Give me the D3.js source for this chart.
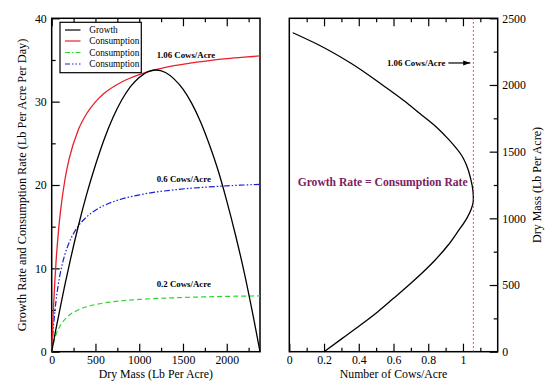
<!DOCTYPE html>
<html><head><meta charset="utf-8">
<script src="https://cdn.jsdelivr.net/npm/d3@7"></script>
<style>
body{margin:0;background:#fff}
svg{display:block}
</style>
</head><body>
<svg id="c" width="560" height="390"></svg>
<script>
// ---- data ----
const growthMass = [0,50,100,150,200,300,400,500,600,700,800,900,1000,1100,1190,1300,1400,1500,1600,1700,1800,1900,2000,2100,2200,2300,2380];
const growthRate = [0,2.8,5.4,8.0,10.4,14.9,18.9,22.4,25.5,28.1,30.2,31.8,32.9,33.6,33.8,33.5,32.7,31.5,29.8,27.6,24.9,21.8,18.1,14.0,9.5,4.4,0];

const consMass = [0,10,20,35,50,75,100,150,200,300,400,500,600,800,1000,1200,1400,1600,1800,2000,2200,2380];
const cons106 = [0,2.83,5.25,8.32,10.84,14.2,16.8,20.57,23.17,26.52,28.58,29.98,31.0,32.36,33.24,33.86,34.31,34.66,34.93,35.16,35.34,35.48];
const cons060 = [0,1.6,2.97,4.71,6.14,8.04,9.51,11.64,13.11,15.01,16.18,16.97,17.55,18.32,18.81,19.17,19.42,19.62,19.77,19.9,20.0,20.08];
const cons020 = [0,0.53,0.99,1.57,2.05,2.68,3.17,3.88,4.37,5.0,5.39,5.66,5.85,6.11,6.27,6.39,6.47,6.54,6.59,6.64,6.67,6.7];

const cowsMass  = [0,100,200,300,400,513,688,800,900,1000,1070,1138,1200,1300,1400,1462,1588,1687,1788,1887,1987,2163,2300,2392];
const cowsCount = [0.20,0.305,0.41,0.51,0.60,0.70,0.84,0.915,0.97,1.022,1.048,1.06,1.058,1.044,1.02,0.997,0.92,0.845,0.75,0.655,0.55,0.355,0.17,0.02];
const cowsMax = 1.06;

const legendLabels = ["Growth","Consumption","Consumption","Consumption"];
const curveLabels = ["1.06 Cows/Acre","0.6 Cows/Acre","0.2 Cows/Acre"];
const leftXTicks = [0,500,1000,1500,2000];
const leftXMinor = [250,750,1250,1750,2250];
const leftYTicks = [0,10,20,30,40];
const leftYMinor = [5,15,25,35];
const rightXTicks = [0,0.2,0.4,0.6,0.8,1.0];
const rightXMinor = [0.1,0.3,0.5,0.7,0.9,1.1];
const rightYTicks = [0,500,1000,1500,2000,2500];
const rightYMinor = [250,750,1250,1750,2250];

// ---- drawing ----
const FONT = '"Liberation Serif", "Times New Roman", serif';
const svg = d3.select("#c");
const RED="#e8202a", GREEN="#2bd62b", BLUE="#1e1ed2", PURPLE="#7b2160";

const xL = d3.scaleLinear().domain([0,2380]).range([51.7,260]);
const yL = d3.scaleLinear().domain([0,40]).range([351.7,18.3]);
const xR = d3.scaleLinear().domain([0,1.2]).range([289.3,497.7]);
const yR = d3.scaleLinear().domain([0,2500]).range([351.7,18.3]);

function addAxis(axis, tx, ty){
  const g = svg.append("g").attr("transform",`translate(${tx},${ty})`).call(axis);
  g.select(".domain").remove();
  g.selectAll("line").attr("stroke","#000").attr("stroke-width",1.2);
  g.attr("font-family",null).attr("font-size",null);
  g.selectAll("text").attr("fill","#000").style("font-family",FONT).style("font-size","11.8px");
  return g;
}
const fmtL = d3.format("d");
const fmtR = v => v===0?"0":(v===1?"1":d3.format(".1f")(v));

// left panel axes
addAxis(d3.axisBottom(xL).tickValues(leftXTicks).tickSizeInner(-8).tickSizeOuter(0).tickPadding(3.5).tickFormat(fmtL),0,yL(0));
addAxis(d3.axisBottom(xL).tickValues(leftXMinor).tickSizeInner(-4).tickSizeOuter(0).tickFormat(""),0,yL(0));
addAxis(d3.axisTop(xL).tickValues(leftXTicks).tickSizeInner(-8).tickSizeOuter(0).tickFormat(""),0,yL(40));
addAxis(d3.axisTop(xL).tickValues(leftXMinor).tickSizeInner(-4).tickSizeOuter(0).tickFormat(""),0,yL(40));
addAxis(d3.axisLeft(yL).tickValues(leftYTicks).tickSizeInner(-8).tickSizeOuter(0).tickPadding(5).tickFormat(fmtL),xL(0),0);
addAxis(d3.axisLeft(yL).tickValues(leftYMinor).tickSizeInner(-4).tickSizeOuter(0).tickFormat(""),xL(0),0);

// right panel axes
addAxis(d3.axisBottom(xR).tickValues(rightXTicks).tickSizeInner(-8).tickSizeOuter(0).tickPadding(3.5).tickFormat(fmtR),0,yR(0));
addAxis(d3.axisBottom(xR).tickValues(rightXMinor).tickSizeInner(-4).tickSizeOuter(0).tickFormat(""),0,yR(0));
addAxis(d3.axisTop(xR).tickValues(rightXTicks.slice(1)).tickSizeInner(-8).tickSizeOuter(0).tickFormat(""),0,yR(2500));
addAxis(d3.axisTop(xR).tickValues(rightXMinor).tickSizeInner(-4).tickSizeOuter(0).tickFormat(""),0,yR(2500));
addAxis(d3.axisRight(yR).tickValues(rightYTicks).tickSizeInner(-8).tickSizeOuter(0).tickPadding(4.6).tickFormat(fmtL),xR(1.2),0);
addAxis(d3.axisRight(yR).tickValues(rightYMinor).tickSizeInner(-4).tickSizeOuter(0).tickFormat(""),xR(1.2),0);

// frames
svg.append("rect").attr("x",xL(0)).attr("y",yL(40)).attr("width",xL(2380)-xL(0)).attr("height",yL(0)-yL(40))
  .attr("fill","none").attr("stroke","#000").attr("stroke-width",1.5);
svg.append("rect").attr("x",xR(0)).attr("y",yR(2500)).attr("width",xR(1.2)-xR(0)).attr("height",yR(0)-yR(2500))
  .attr("fill","none").attr("stroke","#000").attr("stroke-width",1.5);

// left curves
const lineL = (xs, ys) => d3.line().x((d,i)=>xL(xs[i])).y(d=>yL(d)).curve(d3.curveMonotoneX)(ys);
svg.append("path").attr("d",lineL(consMass,cons020)).attr("fill","none").attr("stroke",GREEN).attr("stroke-width",1.2).attr("stroke-dasharray","5,3");
svg.append("path").attr("d",lineL(consMass,cons060)).attr("fill","none").attr("stroke",BLUE).attr("stroke-width",1.2).attr("stroke-dasharray","6,2,1.5,2,1.5,2");
svg.append("path").attr("d",lineL(consMass,cons106)).attr("fill","none").attr("stroke",RED).attr("stroke-width",1.3);
svg.append("path").attr("d",lineL(growthMass,growthRate)).attr("fill","none").attr("stroke","#000").attr("stroke-width",1.3);

// text helper
function txt(x,y,t,size,opts={}){
  const e = svg.append("text").attr("x",x).attr("y",y).text(t)
    .style("font-family",FONT).style("font-size",size+"px");
  if(opts.bold) e.style("font-weight","bold");
  if(opts.anchor) e.attr("text-anchor",opts.anchor);
  if(opts.fill) e.attr("fill",opts.fill);
  if(opts.rot) e.attr("transform",`rotate(-90,${x},${y})`);
  return e;
}

// legend
svg.append("rect").attr("x",60).attr("y",22.3).attr("width",81.3).attr("height",50.4).attr("fill","#fff").attr("stroke","#000").attr("stroke-width",1.2);
const legStyles = [{c:"#000",d:null},{c:RED,d:null},{c:GREEN,d:"5,2,1.5,2"},{c:BLUE,d:"5,2,1.5,2,1.5,2"}];
const legY = [30,41,52.5,64];
legendLabels.forEach((t,i)=>{
  svg.append("line").attr("x1",65).attr("x2",80.5).attr("y1",legY[i]).attr("y2",legY[i])
    .attr("stroke",legStyles[i].c).attr("stroke-width",1.2).attr("stroke-dasharray",legStyles[i].d);
  txt(89.3, legY[i]+3, t, 9.3);
});

// curve labels
const labY = [35.2,20.3,7.8];
curveLabels.forEach((t,i)=> txt(xL(1200), yL(labY[i]), t, 8.8, {bold:true}));

// right panel curve
const pts = cowsMass.map((m,i)=>[m,cowsCount[i]]);
svg.append("path").attr("d",d3.line().x(d=>xR(d[1])).y(d=>yR(d[0])).curve(d3.curveMonotoneY)(pts))
  .attr("fill","none").attr("stroke","#000").attr("stroke-width",1.3);
// dotted line at max stocking
svg.append("line").attr("x1",xR(cowsMax)).attr("x2",xR(cowsMax)).attr("y1",yR(0)).attr("y2",yR(2500))
  .attr("stroke",RED).attr("stroke-width",1).attr("stroke-dasharray","1.5,2.5");
// annotation
svg.append("defs").append("marker").attr("id","ah").attr("viewBox","0 0 10 10").attr("refX",10).attr("refY",5)
  .attr("markerWidth",6).attr("markerHeight",6).attr("orient","auto")
  .append("path").attr("d","M0,1.5L10,5L0,8.5Z").attr("fill","#000");
svg.append("line").attr("x1",xR(cowsMax)-25).attr("x2",xR(cowsMax)-3).attr("y1",yR(2165)).attr("y2",yR(2165))
  .attr("stroke","#000").attr("stroke-width",1.2).attr("marker-end","url(#ah)");
txt(xR(cowsMax)-28, yR(2165)+3, "1.06 Cows/Acre", 8.8, {bold:true, anchor:"end"});
txt(xR(0.048), yR(1242), "Growth Rate = Consumption Rate", 11.6, {bold:true, fill:PURPLE});

// axis titles
txt((xL(0)+xL(2380))/2, 377.5, "Dry Mass (Lb Per Acre)", 11.8, {anchor:"middle"});
txt((xR(0)+xR(1.2))/2, 377.5, "Number of Cows/Acre", 11.8, {anchor:"middle"});
txt(25.5, (yL(0)+yL(40))/2, "Growth Rate and Consumption Rate (Lb Per Acre Per Day)", 12.3, {anchor:"middle", rot:true});
txt(541, (yR(0)+yR(2500))/2, "Dry Mass (Lb Per Acre)", 12, {anchor:"middle", rot:true});
</script>
</body></html>
